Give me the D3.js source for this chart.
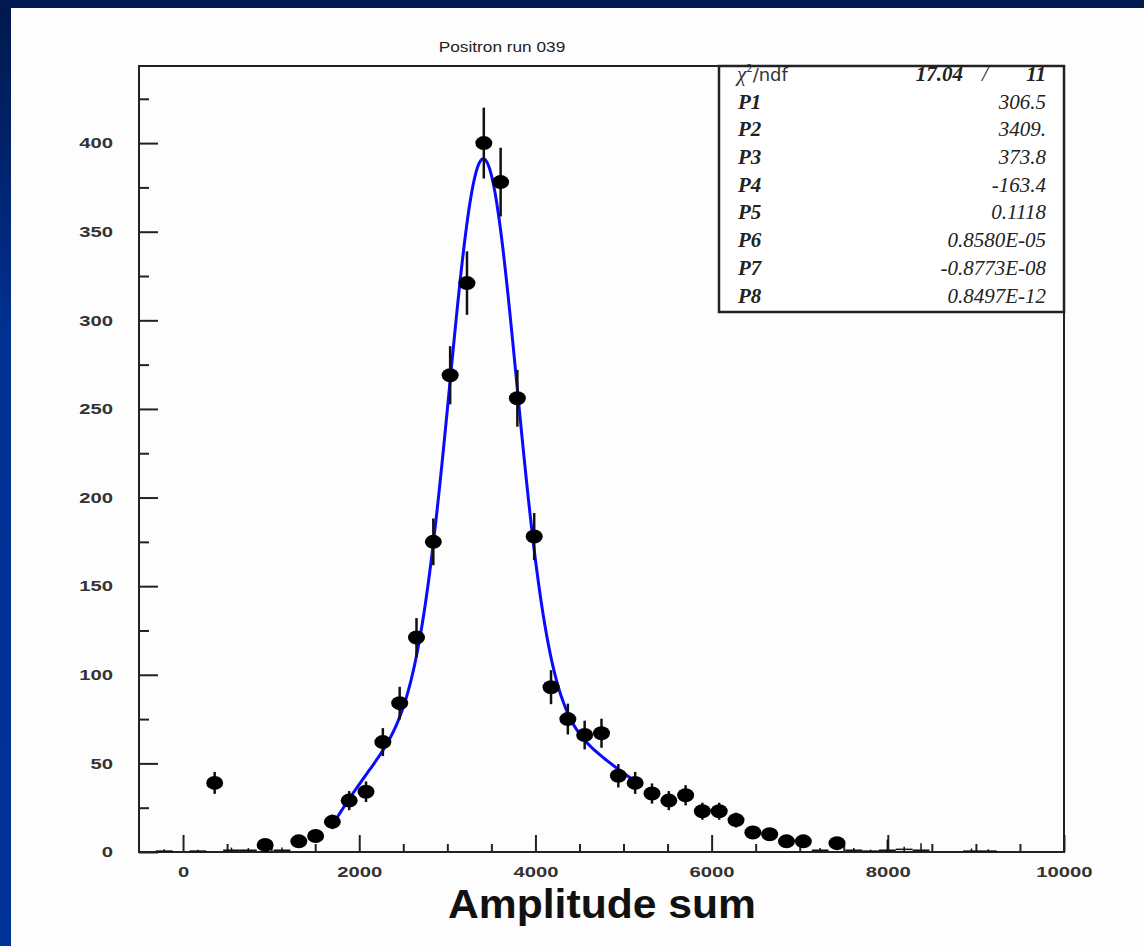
<!DOCTYPE html>
<html>
<head>
<meta charset="utf-8">
<script src="https://cdn.jsdelivr.net/npm/d3@7"></script>
<style>
  body { margin: 0; background: #fff; }
  svg { display: block; }
</style>
</head>
<body>
<div id="main"></div>
<script>
// histogram bins that carry a marker (bin centre, entries, error)
const binCenters = [359, 932, 1314, 1505, 1695, 1886, 2077, 2268, 2459, 2650, 2841, 3032, 3223, 3414,
                    3605, 3795, 3986, 4177, 4368, 4559, 4750, 4941, 5132, 5323, 5514, 5705, 5895, 6086,
                    6277, 6468, 6659, 6850, 7041, 7423];
const binCounts = [39, 4, 6, 9, 17, 29, 34, 62, 84, 121, 175, 269, 321, 400,
                   378, 256, 178, 93, 75, 66, 67, 43, 39, 33, 29, 32, 23, 23,
                   18, 11, 10, 6, 6, 5];
const binErrors = [6.2, 2.0, 2.4, 3.0, 4.1, 5.4, 5.8, 7.9, 9.2, 11.0, 13.2, 16.4, 17.9, 20.0,
                   19.4, 16.0, 13.3, 9.6, 8.7, 8.1, 8.2, 6.6, 6.2, 5.7, 5.4, 5.7, 4.8, 4.8,
                   4.2, 3.3, 3.2, 2.4, 2.4, 2.2];

// nearly empty bins, drawn as bare error crosses
const smallCenters = [-214, 168, 550, 741, 1123, 7232, 7614, 7805, 7995, 8186, 8377, 8950, 9141];
const smallCounts  = [0.5, 0.5, 1, 1, 1, 1, 1, 0.5, 1, 1.5, 1, 0.5, 0.5];
const smallErrors  = [1, 0.8, 1.5, 1.2, 1.5, 1.2, 1.2, 0.8, 6, 1.5, 4, 1.5, 1];
const binHalfWidth = 95.45;

// fit: gaus(P1..P3) + pol4(P4..P8)
const fitNames  = ['P1', 'P2', 'P3', 'P4', 'P5', 'P6', 'P7', 'P8'];
const fitParams = [306.5, 3409, 373.8, -163.4, 0.1118, 0.8580e-5, -0.8773e-8, 0.8497e-12];
const fitLabels = ['306.5', '3409.', '373.8', '-163.4', '0.1118', '0.8580E-05', '-0.8773E-08', '0.8497E-12'];
const fitRange  = [1700, 5130];
const chi2 = '17.04', ndf = '11';

const xTicks = [0, 2000, 4000, 6000, 8000, 10000];
const xMinor = [500, 1000, 1500, 2500, 3000, 3500, 4500, 5000, 5500, 6500, 7000, 7500, 8500, 9000, 9500];
const yTicks = [0, 50, 100, 150, 200, 250, 300, 350, 400];
const yMinor = [25, 75, 125, 175, 225, 275, 325, 375, 425];

const title = 'Positron run 039';
const xTitle = 'Amplitude sum';

const W = 1144, H = 946;
const frame = {left: 139, right: 1064, top: 66, bottom: 852};

const svg = d3.select('#main').append('svg')
    .attr('width', W)
    .attr('height', H);

// slide background
const defs = svg.append('defs');
const grad = defs.append('linearGradient')
    .attr('id', 'side')
    .attr('x1', 0).attr('y1', 0).attr('x2', 0).attr('y2', 1);
grad.append('stop').attr('offset', '0%').attr('stop-color', '#00184c');
grad.append('stop').attr('offset', '35%').attr('stop-color', '#003091');
grad.append('stop').attr('offset', '100%').attr('stop-color', '#003399');

svg.append('rect').attr('width', W).attr('height', H).attr('fill', 'url(#side)');
svg.append('rect').attr('width', W).attr('height', 8).attr('fill', '#001a4f');
svg.append('rect').attr('x', 11).attr('y', 8).attr('width', W - 11).attr('height', H - 8).attr('fill', '#fdfdfd');

const x = d3.scaleLinear().domain([-500, 10000]).range([frame.left, frame.right]);
const y = d3.scaleLinear().domain([0, 443.5]).range([frame.bottom, frame.top]);

const ink = '#222';
const sx = 1.35; // the slide picture is stretched sideways

// axes, ticks pointing inwards
const xAxis = svg.append('g')
    .attr('transform', `translate(0,${frame.bottom})`)
    .call(d3.axisBottom(x).tickValues(xTicks).tickSize(-17).tickPadding(14).tickFormat(d3.format('d')));
const xAxisMinor = svg.append('g')
    .attr('transform', `translate(0,${frame.bottom})`)
    .call(d3.axisBottom(x).tickValues(xMinor).tickSize(-8).tickFormat(''));
const yAxis = svg.append('g')
    .attr('transform', `translate(${frame.left},0)`)
    .call(d3.axisLeft(y).tickValues(yTicks).tickSize(-19).tickPadding(26).tickFormat(d3.format('d')));
const yAxisMinor = svg.append('g')
    .attr('transform', `translate(${frame.left},0)`)
    .call(d3.axisLeft(y).tickValues(yMinor).tickSize(-10).tickFormat(''));

[xAxis, xAxisMinor, yAxis, yAxisMinor].forEach(g => {
    g.select('.domain').remove();
    g.selectAll('line').attr('stroke', ink).attr('stroke-width', 2);
});
xAxis.selectAll('text')
    .attr('font-family', 'Liberation Sans, Arial, sans-serif')
    .attr('font-weight', 'bold')
    .attr('font-size', 15)
    .attr('fill', '#333')
    .attr('transform', `scale(${sx},1)`);
yAxis.selectAll('text')
    .attr('font-family', 'Liberation Sans, Arial, sans-serif')
    .attr('font-weight', 'bold')
    .attr('font-size', 15)
    .attr('fill', '#333')
    .attr('x', -26 / sx)
    .attr('transform', `scale(${sx},1)`);

// frame
svg.append('rect')
    .attr('x', frame.left).attr('y', frame.top)
    .attr('width', frame.right - frame.left)
    .attr('height', frame.bottom - frame.top)
    .attr('fill', 'none')
    .attr('stroke', ink)
    .attr('stroke-width', 2);

// near-empty bins
const small = smallCenters.map((c, i) => ({c: c, v: smallCounts[i], e: smallErrors[i]}));
const smallG = svg.append('g').attr('stroke', '#111').attr('stroke-width', 1.5);
smallG.selectAll('line.h').data(small).join('line')
    .attr('class', 'h')
    .attr('x1', d => x(d.c - binHalfWidth)).attr('x2', d => x(d.c + binHalfWidth))
    .attr('y1', d => y(d.v)).attr('y2', d => y(d.v));
smallG.selectAll('line.v').data(small).join('line')
    .attr('class', 'v')
    .attr('x1', d => x(d.c)).attr('x2', d => x(d.c))
    .attr('y1', d => y(Math.max(0, d.v - d.e))).attr('y2', d => y(d.v + d.e));

// fit curve
const fitFn = v => {
    const [p1, p2, p3, p4, p5, p6, p7, p8] = fitParams;
    const z = (v - p2) / p3;
    return p1 * Math.exp(-0.5 * z * z) + p4 + p5 * v + p6 * v * v + p7 * v * v * v + p8 * v * v * v * v;
};
const fitX = d3.range(fitRange[0], fitRange[1] + 1, 10);
const line = d3.line()
    .x(d => x(d))
    .y(d => y(fitFn(d)));
svg.append('path')
    .datum(fitX)
    .attr('fill', 'none')
    .attr('stroke', '#0a0aff')
    .attr('stroke-width', 3)
    .attr('d', line);

// data points with error bars
const pts = binCenters.map((c, i) => ({c: c, v: binCounts[i], e: binErrors[i]}));
const ptG = svg.append('g');
ptG.selectAll('line.err').data(pts).join('line')
    .attr('class', 'err')
    .attr('x1', d => x(d.c)).attr('x2', d => x(d.c))
    .attr('y1', d => y(d.v - d.e)).attr('y2', d => y(d.v + d.e))
    .attr('stroke', '#111')
    .attr('stroke-width', 2.5);
ptG.selectAll('ellipse').data(pts).join('ellipse')
    .attr('cx', d => x(d.c)).attr('cy', d => y(d.v))
    .attr('rx', 8.5).attr('ry', 7)
    .attr('fill', '#000');

// statistics box
const box = {left: 719, top: frame.top, right: frame.right, bottom: 312};
svg.append('rect')
    .attr('x', box.left).attr('y', box.top)
    .attr('width', box.right - box.left)
    .attr('height', box.bottom - box.top)
    .attr('fill', '#fff')
    .attr('stroke', ink)
    .attr('stroke-width', 2.5);

const rowY = d3.scaleLinear().domain([0, 8]).range([81, 302.5]);
const serif = 'Liberation Serif, Times New Roman, serif';

const chiRow = svg.append('text')
    .attr('x', 737).attr('y', rowY(0))
    .attr('font-family', 'DejaVu Sans, sans-serif')
    .attr('font-size', 18)
    .attr('fill', '#333');
chiRow.append('tspan').attr('font-family', serif).attr('font-style', 'italic').attr('font-size', 21).text('χ');
chiRow.append('tspan').attr('font-size', 10).attr('dy', -9).text('2');
chiRow.append('tspan').attr('dy', 9).text('/ndf');

svg.append('text')
    .attr('x', 963).attr('y', rowY(0))
    .attr('text-anchor', 'end')
    .attr('font-family', serif).attr('font-style', 'italic').attr('font-weight', 'bold')
    .attr('font-size', 21).attr('fill', '#222')
    .text(chi2);
svg.append('text')
    .attr('x', 985).attr('y', rowY(0))
    .attr('text-anchor', 'middle')
    .attr('font-family', serif).attr('font-style', 'italic')
    .attr('font-size', 21).attr('fill', '#222')
    .text('/');
svg.append('text')
    .attr('x', 1046).attr('y', rowY(0))
    .attr('text-anchor', 'end')
    .attr('font-family', serif).attr('font-style', 'italic').attr('font-weight', 'bold')
    .attr('font-size', 21).attr('fill', '#222')
    .text(ndf);

svg.selectAll('text.pname').data(fitNames).join('text')
    .attr('class', 'pname')
    .attr('x', 738).attr('y', (d, i) => rowY(i + 1))
    .attr('font-family', serif).attr('font-style', 'italic').attr('font-weight', 'bold')
    .attr('font-size', 21).attr('fill', '#222')
    .text(d => d);
svg.selectAll('text.pval').data(fitLabels).join('text')
    .attr('class', 'pval')
    .attr('x', 1046).attr('y', (d, i) => rowY(i + 1))
    .attr('text-anchor', 'end')
    .attr('font-family', serif).attr('font-style', 'italic')
    .attr('font-size', 21).attr('fill', '#222')
    .text(d => d);

// titles
svg.append('text')
    .attr('transform', `translate(502,52) scale(1.15,1)`)
    .attr('text-anchor', 'middle')
    .attr('font-family', 'Liberation Sans Narrow, Liberation Sans, Arial, sans-serif')
    .attr('font-size', 15)
    .attr('fill', '#222')
    .text(title);

svg.append('text')
    .attr('x', 602).attr('y', 918)
    .attr('text-anchor', 'middle')
    .attr('font-family', 'Liberation Sans, Arial, sans-serif')
    .attr('font-weight', 'bold')
    .attr('font-size', 41)
    .attr('fill', '#111')
    .attr('textLength', 308)
    .attr('lengthAdjust', 'spacingAndGlyphs')
    .text(xTitle);
</script>
</body>
</html>
